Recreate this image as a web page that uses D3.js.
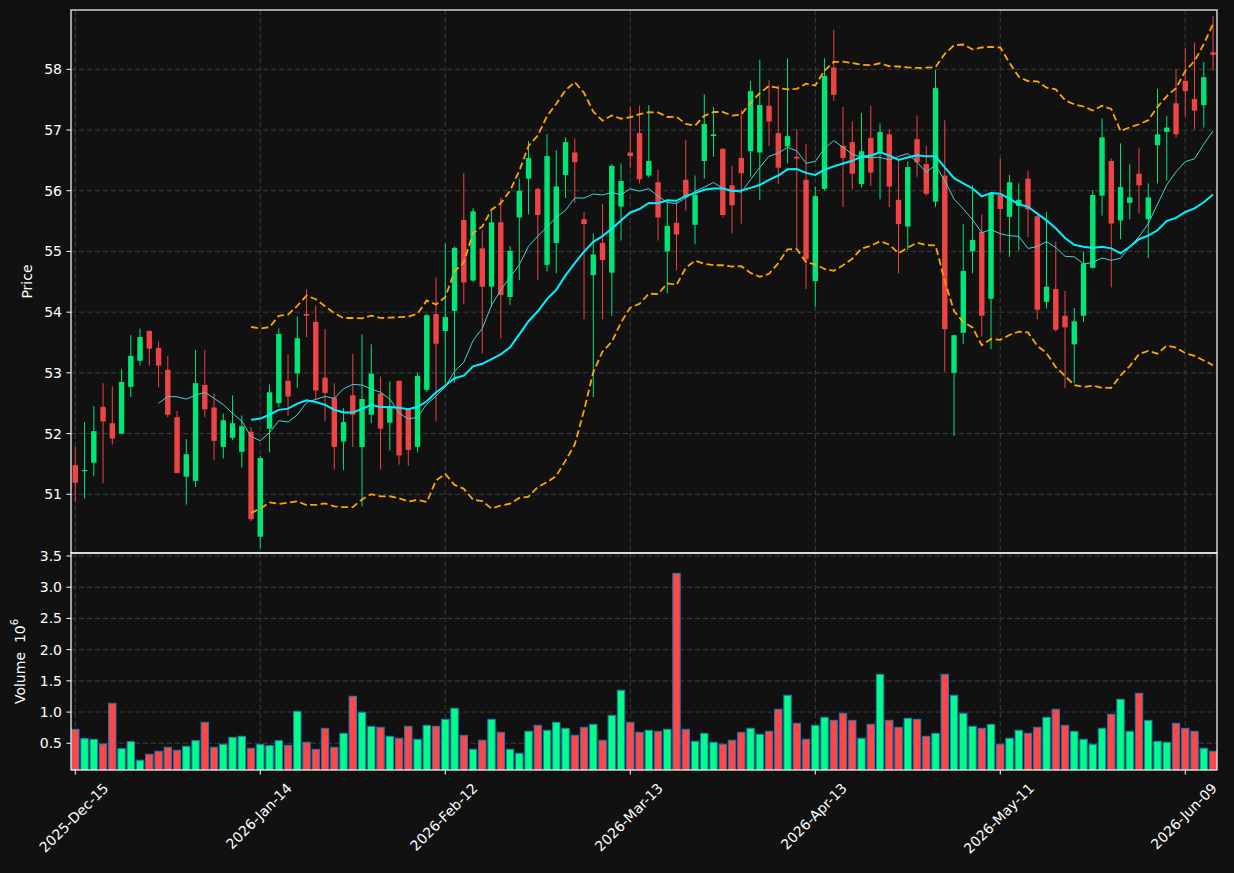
<!DOCTYPE html>
<html><head><meta charset="utf-8">
<script src="https://cdn.jsdelivr.net/npm/d3@7"></script>
<style>
html,body{margin:0;padding:0;background:#111111;}
svg{display:block;}
text{font-family:"DejaVu Sans",sans-serif;fill:#ffffff;}
</style></head>
<body>
<svg id="chart" width="1234" height="873"></svg>
<script>
// ---------- data ----------
const dates = [
"2025-12-15","2025-12-16","2025-12-17","2025-12-18","2025-12-19","2025-12-22","2025-12-23","2025-12-24","2025-12-26","2025-12-29","2025-12-30","2025-12-31",
"2026-01-02","2026-01-05","2026-01-06","2026-01-07","2026-01-08","2026-01-09","2026-01-12","2026-01-13","2026-01-14","2026-01-15","2026-01-16",
"2026-01-20","2026-01-21","2026-01-22","2026-01-23","2026-01-26","2026-01-27","2026-01-28","2026-01-29","2026-01-30",
"2026-02-02","2026-02-03","2026-02-04","2026-02-05","2026-02-06","2026-02-09","2026-02-10","2026-02-11","2026-02-12","2026-02-13",
"2026-02-17","2026-02-18","2026-02-19","2026-02-20","2026-02-23","2026-02-24","2026-02-25","2026-02-26","2026-02-27",
"2026-03-02","2026-03-03","2026-03-04","2026-03-05","2026-03-06","2026-03-09","2026-03-10","2026-03-11","2026-03-12","2026-03-13",
"2026-03-16","2026-03-17","2026-03-18","2026-03-19","2026-03-20","2026-03-23","2026-03-24","2026-03-25","2026-03-26","2026-03-27",
"2026-03-30","2026-03-31","2026-04-01","2026-04-02","2026-04-06","2026-04-07","2026-04-08","2026-04-09","2026-04-10","2026-04-13",
"2026-04-14","2026-04-15","2026-04-16","2026-04-17","2026-04-20","2026-04-21","2026-04-22","2026-04-23","2026-04-24",
"2026-04-27","2026-04-28","2026-04-29","2026-04-30","2026-05-01","2026-05-04","2026-05-05","2026-05-06","2026-05-07","2026-05-08","2026-05-11",
"2026-05-12","2026-05-13","2026-05-14","2026-05-15","2026-05-18","2026-05-19","2026-05-20","2026-05-21","2026-05-22",
"2026-05-26","2026-05-27","2026-05-28","2026-05-29","2026-06-01","2026-06-02","2026-06-03","2026-06-04","2026-06-05",
"2026-06-08","2026-06-09","2026-06-10","2026-06-11","2026-06-12"];

const open = [51.48,51.38,51.52,52.44,52.17,52.00,52.77,53.20,53.69,53.41,53.05,52.27,51.29,51.22,52.80,52.43,51.78,51.93,51.70,52.03,
50.30,52.08,52.50,52.87,52.99,53.97,53.84,52.92,52.59,51.87,52.63,51.78,52.31,52.66,52.18,52.87,52.40,51.78,52.72,53.97,
53.69,54.02,55.52,54.52,55.05,54.42,55.48,54.25,55.56,56.20,56.03,54.78,55.14,56.26,56.63,55.53,54.61,55.14,54.65,55.74,
56.63,56.95,56.25,56.14,55.00,55.47,56.18,55.44,56.49,56.90,56.69,56.09,56.54,56.65,56.63,57.40,56.95,56.73,56.56,56.18,
54.51,56.03,58.03,56.74,56.80,56.11,56.87,56.63,56.93,55.85,55.41,56.85,56.44,55.82,56.25,53.00,53.66,55.00,55.32,54.22,
55.93,55.57,55.75,56.20,55.58,54.17,54.38,53.94,53.47,53.94,54.73,55.92,56.49,55.51,55.80,56.28,55.53,56.75,56.97,57.44,
57.81,57.51,57.41,58.28];
const high = [51.78,52.19,52.45,52.83,52.78,53.06,53.62,53.73,53.70,53.52,53.28,52.37,51.91,53.38,53.38,52.66,52.33,52.63,52.30,52.11,
51.63,52.81,53.73,53.31,53.93,54.38,54.11,53.72,52.83,52.42,53.31,53.63,53.47,52.94,52.86,52.87,52.40,53.00,53.97,54.57,
55.13,55.08,56.29,55.71,55.35,55.65,55.89,55.09,56.20,56.82,56.05,56.93,56.67,56.88,56.86,55.65,55.30,55.78,56.44,56.45,
57.38,57.40,57.41,56.35,55.85,55.85,56.84,56.25,57.59,57.38,56.70,56.41,57.33,57.81,58.16,57.82,57.74,58.18,57.01,56.77,
56.07,58.18,58.65,57.38,57.14,57.28,57.40,57.11,57.01,56.53,56.48,57.24,56.74,57.99,57.16,53.63,55.45,56.09,55.61,55.97,
56.53,56.26,56.12,56.33,55.60,55.65,55.16,54.35,54.07,54.99,56.01,57.19,56.53,56.78,56.44,56.70,56.12,57.68,57.23,58.00,
58.35,58.44,58.12,58.88];
const low = [50.88,50.93,51.30,51.18,51.82,51.99,52.60,53.12,53.12,52.76,52.27,51.35,50.83,51.12,52.27,51.57,51.59,51.89,51.44,50.56,
50.11,51.69,52.44,52.29,52.75,53.59,52.57,52.21,51.41,51.40,51.78,50.80,52.17,51.41,51.72,51.49,51.47,51.69,52.68,52.20,
52.83,52.84,54.13,54.50,53.32,54.09,53.57,54.12,54.53,55.61,54.53,54.67,54.64,55.88,55.80,53.88,52.60,53.88,53.94,55.18,
56.38,56.12,56.22,55.18,54.31,54.69,55.67,55.12,56.20,56.56,55.56,55.30,55.46,56.23,55.85,56.74,56.11,56.45,55.05,54.38,
54.09,56.00,57.48,55.73,56.02,56.05,56.08,55.86,55.73,54.64,55.02,56.23,55.92,55.73,53.02,51.96,53.48,54.64,53.60,53.39,
55.00,54.91,55.02,55.24,53.88,54.06,53.68,52.75,52.83,53.84,54.72,55.59,54.41,55.20,55.53,55.63,54.89,56.12,56.17,56.88,
57.23,57.01,57.04,57.98];
const close = [51.19,51.40,52.04,52.20,51.92,52.85,53.28,53.59,53.40,53.12,52.31,51.35,51.66,52.83,52.40,51.88,52.22,52.17,52.12,50.59,
51.60,52.68,53.64,52.61,53.57,53.94,52.71,52.67,51.78,52.19,52.31,52.57,52.99,52.08,52.45,51.64,51.73,52.95,53.95,53.48,
53.92,55.06,54.49,55.66,54.42,55.48,54.28,55.01,56.00,56.54,55.60,56.57,56.07,56.80,56.47,55.45,54.95,54.86,56.41,56.16,
56.57,56.19,56.49,55.56,55.42,55.28,55.89,55.93,57.10,56.93,55.60,55.76,56.29,57.64,57.41,57.14,56.38,56.90,56.53,54.87,
55.91,57.89,57.58,56.54,56.28,56.65,56.30,56.97,56.07,55.45,56.39,56.47,55.95,57.69,53.72,53.62,54.68,55.19,53.94,55.96,
55.70,56.14,55.85,55.69,54.04,54.42,53.71,53.75,53.85,54.80,55.93,56.88,55.46,56.06,55.89,56.09,55.89,56.93,57.04,56.93,
57.64,57.32,57.87,58.24];
// volume in units of 10^6
const volume = [0.724,0.574,0.564,0.489,1.141,0.414,0.526,0.228,0.324,0.372,0.436,0.388,0.452,0.542,0.836,0.436,0.484,0.596,0.612,0.420,
0.484,0.462,0.542,0.468,1.013,0.516,0.404,0.740,0.436,0.660,1.253,0.997,0.772,0.756,0.612,0.580,0.772,0.564,0.788,0.772,
0.884,1.061,0.628,0.404,0.548,0.884,0.676,0.404,0.340,0.692,0.788,0.708,0.836,0.740,0.628,0.756,0.804,0.548,0.948,1.349,
0.836,0.676,0.708,0.692,0.724,3.223,0.724,0.532,0.660,0.516,0.484,0.548,0.676,0.740,0.644,0.692,1.045,1.269,0.820,0.564,
0.788,0.916,0.868,0.981,0.868,0.580,0.804,1.605,0.868,0.756,0.900,0.884,0.612,0.660,1.605,1.269,0.981,0.772,0.740,0.804,
0.484,0.580,0.708,0.660,0.756,0.916,1.045,0.788,0.692,0.564,0.484,0.740,0.965,1.205,0.692,1.301,0.868,0.532,0.516,0.820,
0.740,0.692,0.420,0.372];

const priceTicks = [51,52,53,54,55,56,57,58];
const volumeTicks = [0.5,1.0,1.5,2.0,2.5,3.0,3.5];
const xTickIndex = [0,20,40,60,80,100,120];
const shortMav = 10, longMav = 20, bandStd = 2;

// ---------- derived indicators (from closes) ----------
function sma(arr, n){ return arr.map((v,i)=> i<n-1 ? null : d3.mean(arr.slice(i-n+1,i+1))); }
function bands(arr, n, k){
  return arr.map((v,i)=>{
    if(i<n-1) return null;
    const w = arr.slice(i-n+1,i+1), m = d3.mean(w);
    const sd = Math.sqrt(d3.mean(w.map(x=>(x-m)*(x-m))));
    return {up:m+k*sd, lo:m-k*sd};
  });
}
const ma10 = sma(close, shortMav), ma20 = sma(close, longMav), bb = bands(close, longMav, bandStd);

// ---------- layout ----------
const L = 71, R = 1217, PT = 10, PB = 553, VT = 553, VB = 770;
const svg = d3.select("#chart");
svg.append("rect").attr("width",1234).attr("height",873).attr("fill","#111111");

const x = d3.scaleLinear().domain([-0.465, 123.43]).range([L, R]);
const y = d3.scaleLinear().domain([50.033, 58.977]).range([PB, PT]);
const yv = d3.scaleLinear().domain([0.072, 3.548]).range([VB, VT]);
const parse = d3.timeParse("%Y-%m-%d"), fmt = d3.timeFormat("%Y-%b-%d");

const gridColor = "#3d3d3d";
// grids
const g = svg.append("g");
[[y, priceTicks], [yv, volumeTicks]].forEach(([sc, ticks]) => {
  g.selectAll(null).data(ticks).enter().append("line")
    .attr("x1", L).attr("x2", R).attr("y1", d=>sc(d)).attr("y2", d=>sc(d))
    .attr("stroke", gridColor).attr("stroke-width",1).attr("stroke-dasharray","5,3");
});
[[PT,PB],[VT,VB]].forEach(([t,b])=>{
  g.selectAll(null).data(xTickIndex).enter().append("line")
    .attr("x1", d=>x(d)).attr("x2", d=>x(d)).attr("y1", t).attr("y2", b)
    .attr("stroke", gridColor).attr("stroke-width",1).attr("stroke-dasharray","5,3");
});

// clip for panels
svg.append("clipPath").attr("id","pclip").append("rect").attr("x",L).attr("y",PT).attr("width",R-L).attr("height",PB-PT);
svg.append("clipPath").attr("id","vclip").append("rect").attr("x",L).attr("y",VT).attr("width",R-L).attr("height",VB-VT);

const idx = d3.range(close.length);
const upC = "#00e676", dnC = "#ef4444";
const pg = svg.append("g").attr("clip-path","url(#pclip)");
// wicks
pg.selectAll(null).data(idx).enter().append("line")
  .attr("x1", i=>x(i)).attr("x2", i=>x(i)).attr("y1", i=>y(high[i])).attr("y2", i=>y(low[i]))
  .attr("stroke", i=> close[i]>=open[i]?upC:dnC).attr("stroke-width",1);
// bodies
const bw = 5.4;
pg.selectAll(null).data(idx).enter().append("rect")
  .attr("x", i=>x(i)-bw/2).attr("width", bw)
  .attr("y", i=>y(Math.max(open[i],close[i])))
  .attr("height", i=>Math.max(1, Math.abs(y(open[i])-y(close[i]))))
  .attr("fill", i=> close[i]>=open[i]?upC:dnC);

// moving averages
const lineGen = arr => d3.line().defined(i=>arr[i]!==null).x(i=>x(i)).y(i=>y(arr[i]))(idx);
pg.append("path").attr("d", lineGen(ma10)).attr("fill","none").attr("stroke","#45d3d3").attr("stroke-width",1);
pg.append("path").attr("d", lineGen(ma20)).attr("fill","none").attr("stroke","#00f0ff").attr("stroke-width",2);
const up = bb.map(d=>d?d.up:null), lo = bb.map(d=>d?d.lo:null);
[up, lo].forEach(arr=>{
  pg.append("path").attr("d", lineGen(arr)).attr("fill","none").attr("stroke","#ffa500")
    .attr("stroke-width",1.8).attr("stroke-dasharray","7,3.5");
});

// volume
const vg = svg.append("g").attr("clip-path","url(#vclip)");
const vw = 7.4;
vg.selectAll(null).data(idx).enter().append("rect")
  .attr("x", i=>x(i)-vw/2).attr("width", vw)
  .attr("y", i=>yv(volume[i])).attr("height", i=>yv.range()[0]-yv(volume[i])+2)
  .attr("fill", i=> close[i]>=open[i]?"#00ff88":"#ff4747")
  .attr("stroke","#1f77b4").attr("stroke-width",1);

// spines
const frame = svg.append("g").attr("fill","none").attr("stroke","#ffffff").attr("stroke-width",1.2);
frame.append("rect").attr("x",L).attr("y",PT).attr("width",R-L).attr("height",PB-PT);
frame.append("rect").attr("x",L).attr("y",VT).attr("width",R-L).attr("height",VB-VT);

// y ticks
const tg = svg.append("g");
[[y, priceTicks, d=>String(d)], [yv, volumeTicks, d=>d.toFixed(1)]].forEach(([sc, ticks, f])=>{
  tg.selectAll(null).data(ticks).enter().append("line")
    .attr("x1", L-4.5).attr("x2", L).attr("y1", d=>sc(d)).attr("y2", d=>sc(d))
    .attr("stroke","#ffffff").attr("stroke-width",1);
  tg.selectAll(null).data(ticks).enter().append("text")
    .attr("x", L-9).attr("y", d=>sc(d)).attr("text-anchor","end").attr("dominant-baseline","central")
    .attr("font-size",14).text(f);
});
// x ticks
tg.selectAll(null).data(xTickIndex).enter().append("line")
  .attr("x1", d=>x(d)).attr("x2", d=>x(d)).attr("y1", VB).attr("y2", VB+4.5)
  .attr("stroke","#ffffff").attr("stroke-width",1);
xTickIndex.forEach(i=>{
  const t = tg.append("text").attr("font-size",14).attr("text-anchor","middle")
    .attr("dominant-baseline","central").text(fmt(parse(dates[i])));
  const w = t.node().getComputedTextLength();
  const H = (w+16)*Math.SQRT1_2;
  const cy = VB + 10 + H/2;
  t.attr("transform", `translate(${x(i)-1.5},${cy}) rotate(-45)`);
});

// axis labels
svg.append("text").attr("transform", `translate(27,${(PT+PB)/2}) rotate(-90)`)
  .attr("text-anchor","middle").attr("dominant-baseline","central").attr("font-size",14).text("Price");
const vl = svg.append("text").attr("transform", `translate(20,${(VT+VB)/2}) rotate(-90)`)
  .attr("text-anchor","middle").attr("dominant-baseline","central").attr("font-size",14)
  .attr("xml:space","preserve").style("white-space","pre");
vl.append("tspan").text("Volume  10");
vl.append("tspan").attr("font-size",10).attr("dy",-6).text("6");
</script>
</body></html>
